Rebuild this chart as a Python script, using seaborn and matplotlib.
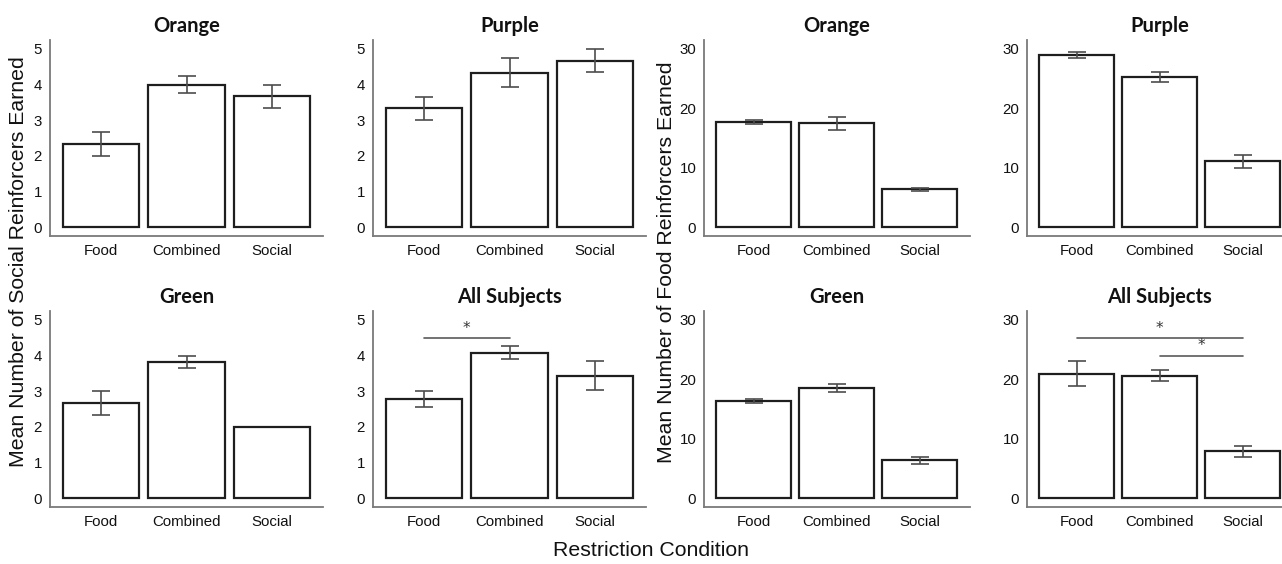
import numpy as np
import pandas as pd
import seaborn as sns
import matplotlib.pyplot as plt

conditions = ["Food", "Combined", "Social"]

# social reinforcers (left block)
social_titles = ["Orange", "Purple", "Green", "All Subjects"]
social_means = [
    [2.33, 4.00, 3.67],
    [3.33, 4.33, 4.67],
    [2.67, 3.83, 2.00],
    [2.78, 4.08, 3.44],
]
social_se = [
    [0.33, 0.23, 0.33],
    [0.33, 0.41, 0.33],
    [0.33, 0.17, np.nan],
    [0.22, 0.18, 0.41],
]

# food reinforcers (right block)
food_titles = ["Orange", "Purple", "Green", "All Subjects"]
food_means = [
    [17.67, 17.47, 6.35],
    [29.0, 25.33, 11.05],
    [16.33, 18.47, 6.33],
    [20.95, 20.62, 7.87],
]
food_se = [
    [0.3, 1.07, 0.3],
    [0.55, 0.85, 1.15],
    [0.3, 0.67, 0.63],
    [2.05, 0.92, 0.9],
]

# significance brackets: (panel, from, to, height)
social_sig = [(3, 0, 1, 4.5)]
food_sig = [(3, 0, 2, 27.0), (3, 1, 2, 24.0)]

W, H = 1282, 564
fig = plt.figure(figsize=(W / 100, H / 100), dpi=100)
sns.set_style("white")
plt.rcParams["font.family"] = ["Lato", "DejaVu Sans"]

# axes boxes in pixels
lefts_social = [49.7, 372.7]
lefts_food = [704, 1027]
w_social, w_food = 273.6, 265.6
tops = [40, 311]
ax_h = 196


def add_ax(left, top, w, h):
    return fig.add_axes([left / W, 1 - (top + h) / H, w / W, h / H])


def draw_panel(ax, title, means, se, ymax, yticks, sigs):
    df = pd.DataFrame({"cond": conditions, "mean": means})
    sns.barplot(data=df, x="cond", y="mean", ax=ax, color="white",
                saturation=1, edgecolor="#1e1e1e", linewidth=1.6, width=0.9)
    ax.errorbar(np.arange(len(conditions)), means, yerr=se, fmt="none",
                ecolor="#4d4d4d", elinewidth=1.2, capsize=6.5, capthick=1.2)
    ax.set_xlim(-0.6, 2.6)
    ax.set_ylim(-0.05 * ymax, 1.05 * ymax)
    ax.set_yticks(yticks)
    ax.set_xlabel("")
    ax.set_ylabel("")
    ax.set_title(title, fontweight="bold", fontsize=14.5, color="#111111", pad=6)
    for s in ["top", "right"]:
        ax.spines[s].set_visible(False)
    for s in ["left", "bottom"]:
        ax.spines[s].set_color("#7a7a7a")
        ax.spines[s].set_linewidth(1.3)
    ax.tick_params(axis="both", length=3.5, width=1.1, color="#7a7a7a",
                   labelsize=10.8, labelcolor="#111111", pad=2)
    for lab in ax.get_xticklabels() + ax.get_yticklabels():
        lab.set_family("Liberation Sans")
    for x0, x1, yy in sigs:
        ax.plot([x0, x1], [yy, yy], color="#5a5a5a", lw=1.2)
        ax.annotate("*", xy=((x0 + x1) / 2, yy), xytext=(0, 7),
                    textcoords="offset points", ha="center", va="center",
                    fontsize=11, color="#333333", family="DejaVu Sans")


for i in range(4):
    r, c = divmod(i, 2)
    ax = add_ax(lefts_social[c], tops[r], w_social, ax_h)
    sigs = [(a, b, y) for p, a, b, y in social_sig if p == i]
    draw_panel(ax, social_titles[i], social_means[i], social_se[i], 5,
               [0, 1, 2, 3, 4, 5], sigs)

for i in range(4):
    r, c = divmod(i, 2)
    ax = add_ax(lefts_food[c], tops[r], w_food, ax_h)
    sigs = [(a, b, y) for p, a, b, y in food_sig if p == i]
    draw_panel(ax, food_titles[i], food_means[i], food_se[i], 30,
               [0, 10, 20, 30], sigs)

fig.text(19 / W, 1 - 262 / H, "Mean Number of Social Reinforcers Earned",
         rotation=90, ha="center", va="center", fontsize=15.3,
         family="Liberation Sans", color="#111111")
fig.text(666 / W, 1 - 262 / H, "Mean Number of Food Reinforcers Earned",
         rotation=90, ha="center", va="center", fontsize=15.3,
         family="Liberation Sans", color="#111111")
fig.text(651 / W, 1 - 550 / H, "Restriction Condition", ha="center",
         va="center", fontsize=15.3, family="Liberation Sans", color="#111111")

fig.savefig("out.png", dpi=100)
